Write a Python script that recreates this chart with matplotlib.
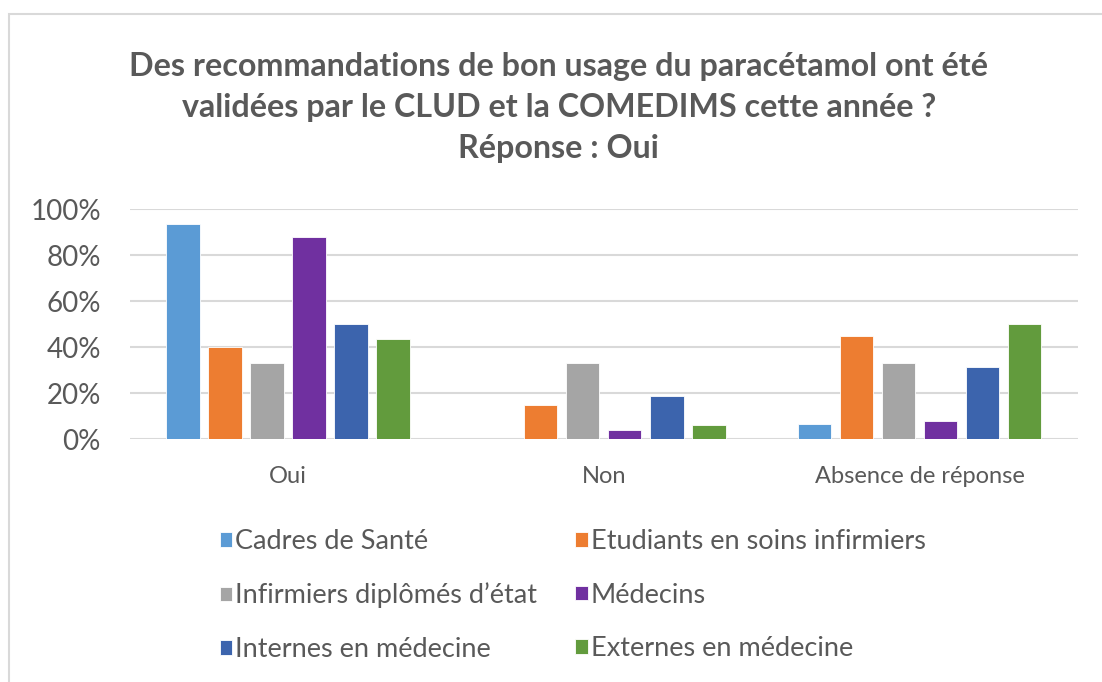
import numpy as np
import matplotlib.pyplot as plt
from matplotlib.patches import Rectangle
from matplotlib.ticker import PercentFormatter

plt.rcParams['font.family'] = ['Lato', 'DejaVu Sans']

categories = ["Oui", "Non", "Absence de réponse"]
groupes = ["Cadres de Santé", "Etudiants en soins infirmiers",
           "Infirmiers diplômés d\u2019état", "Médecins",
           "Internes en médecine", "Externes en médecine"]
cadres = [0.933, 0.0, 0.067]
etudiants = [0.40, 0.15, 0.45]
infirmiers = [0.333, 0.333, 0.333]
medecins = [0.88, 0.04, 0.08]
internes = [0.50, 0.1875, 0.3125]
externes = [0.4375, 0.0625, 0.50]
couleurs = ["#5B9BD5", "#ED7D31", "#A5A5A5", "#7030A0", "#3C64AD", "#629B3D"]

series = [cadres, etudiants, infirmiers, medecins, internes, externes]
gris = "#595959"

fig = plt.figure(figsize=(11.02, 6.82), dpi=100)
ax = fig.add_axes([0.118, 0.356, 0.860, 0.3375])

x = np.arange(len(categories))
pas = 0.133
larg = 0.105
barres = []
for i, (vals, c) in enumerate(zip(series, couleurs)):
    b = ax.bar(x + (i - 2.5) * pas, vals, larg, color=c, edgecolor="white",
               linewidth=0.6, zorder=3, label=groupes[i])
    barres.append(b)

ax.set_xlim(-0.5, 2.5)
ax.set_ylim(0, 1)
ax.set_yticks(np.arange(0, 1.01, 0.2))
ax.yaxis.set_major_formatter(PercentFormatter(1.0, decimals=0))
ax.set_xticks(x)
ax.set_xticklabels(categories)
ax.grid(axis="y", color="#D9D9D9", linewidth=1.5, zorder=0)
for s in ax.spines.values():
    s.set_visible(False)
ax.tick_params(axis="both", length=0, colors=gris)
ax.tick_params(axis="y", labelsize=20, pad=21)
ax.tick_params(axis="x", labelsize=17, pad=19)

fig.text(0.507, 0.843,
         "Des recommandations de bon usage du paracétamol ont été\n"
         "validées par le CLUD et la COMEDIMS cette année ?\n"
         "Réponse : Oui",
         ha="center", va="center", fontsize=23.2, fontweight="bold",
         color=gris, linespacing=1.5)

ordre = [0, 2, 4, 1, 3, 5]
leg = fig.legend([barres[i] for i in ordre], [groupes[i] for i in ordre],
                 ncol=2, loc="upper left", bbox_to_anchor=(0.1996, 0.224),
                 frameon=False, fontsize=19.5, handlelength=0.45,
                 handleheight=0.45, handletextpad=0.12, columnspacing=1.4,
                 labelspacing=1.05, borderpad=0, borderaxespad=0)
for t in leg.get_texts():
    t.set_color(gris)

# cadre du graphique
fig.patches.append(Rectangle((9 / 1102, -0.1), 1.2, 1 - 14 / 682 + 0.1,
                             transform=fig.transFigure, fill=False,
                             edgecolor="#D9D9D9", linewidth=1.5))

fig.savefig("out.png", dpi=100)
